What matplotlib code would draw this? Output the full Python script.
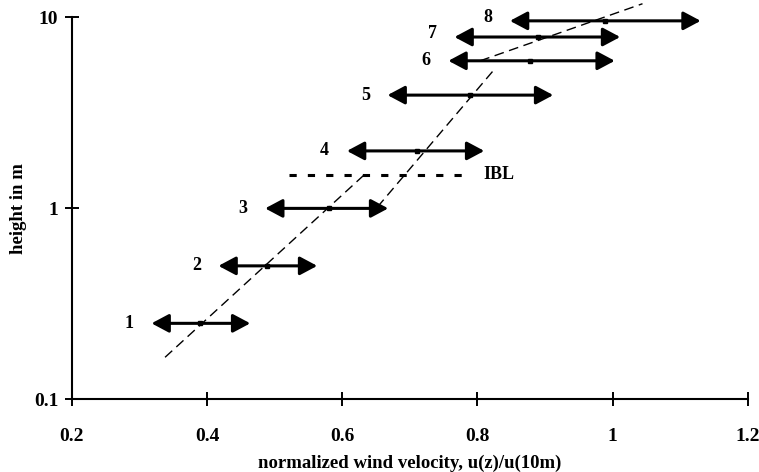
import matplotlib
matplotlib.use("Agg")
import matplotlib.pyplot as plt
import numpy as np

# --- data ---
labels = ["1", "2", "3", "4", "5", "6", "7", "8"]
heights = [0.25, 0.5, 1.0, 2.0, 3.92, 5.93, 7.9, 9.6]
u_center = [0.390, 0.489, 0.580, 0.710, 0.789, 0.878, 0.889, 0.988]
u_low = [0.318, 0.417, 0.486, 0.607, 0.667, 0.757, 0.766, 0.848]
u_high = [0.464, 0.563, 0.668, 0.810, 0.912, 1.003, 1.011, 1.130]

fit_a_x = [0.338, 0.637]
fit_a_y = [0.166, 1.55]
fit_b_x = [0.652, 0.824]
fit_b_y = [1.016, 5.3]
fit_c_x = [0.804, 1.044]
fit_c_y = [5.93, 11.8]

ibl_x = [0.522, 0.778]
ibl_y = [1.5, 1.5]
ibl_label = "IBL"

xticks = [0.2, 0.4, 0.6, 0.8, 1.0, 1.2]
xtick_labels = ["0.2", "0.4", "0.6", "0.8", "1", "1.2"]
yticks = [0.1, 1, 10]
ytick_labels = ["0.1", "1", "10"]
xlabel = "normalized wind velocity, u(z)/u(10m)"
ylabel = "height in m"

plt.rcParams['font.family'] = ['Liberation Serif', 'DejaVu Serif']
plt.rcParams['font.weight'] = 'bold'

fig = plt.figure(figsize=(7.59, 4.72), dpi=100)
ax = fig.add_axes([0.0945, 0.154, 0.891, 0.809])
ax.set_xscale('linear')
ax.set_yscale('log')
ax.set_xlim(0.2, 1.2)
ax.set_ylim(0.1, 10)

for s in ['top', 'right']:
    ax.spines[s].set_visible(False)
for s in ['left', 'bottom']:
    ax.spines[s].set_linewidth(1.5)

ax.set_xticks(xticks)
ax.set_xticklabels(xtick_labels)
ax.set_yticks(yticks)
ax.set_yticklabels(ytick_labels)
ax.yaxis.set_minor_locator(matplotlib.ticker.NullLocator())
ax.tick_params(axis='both', which='major', direction='inout', length=9.5,
               width=1.4, labelsize=14)
ax.tick_params(axis='x', pad=16)
ax.tick_params(axis='y', pad=5)
for lbl in ax.get_xticklabels() + ax.get_yticklabels():
    lbl.set_fontweight('bold')

ax.set_xlabel(xlabel, fontsize=13.5, fontweight='bold', labelpad=7)
ax.set_ylabel(ylabel, fontsize=13.5, fontweight='bold', labelpad=5)

# fit lines (dashed, thin)
for fx, fy in [(fit_a_x, fit_a_y), (fit_b_x, fit_b_y), (fit_c_x, fit_c_y)]:
    ax.plot(fx, fy, color='black', lw=1.0, linestyle=(0, (7, 4)), clip_on=False, zorder=2)

# IBL dotted line
lw_ibl = 2.2
ax.plot(ibl_x, ibl_y, color='black', lw=lw_ibl,
        linestyle=(0, (5.2 / lw_ibl, 8.0 / lw_ibl)), zorder=2)
ax.text(ibl_x[1] + 0.031, ibl_y[0], ibl_label, fontsize=13, fontweight='bold',
        ha='left', va='center')

# arrows
for lab, h, lo, hi, c in zip(labels, heights, u_low, u_high, u_center):
    ax.annotate('', xy=(hi, h), xytext=(lo, h),
                arrowprops=dict(arrowstyle='<|-|>,head_length=0.75,head_width=0.4',
                                lw=2.2, color='black', shrinkA=0, shrinkB=0,
                                mutation_scale=14),
                zorder=3, annotation_clip=False)
    ax.plot([c], [h], marker='s', markersize=3.0, color='black', zorder=4,
            clip_on=False)
    dy = 2.5 if lab in ("7", "8") else 0
    ax.annotate(lab, xy=(lo, h), xytext=(-16, dy), textcoords='offset points',
                ha='center', va='center', fontsize=13, fontweight='bold',
                annotation_clip=False)

fig.savefig('out.png', dpi=100)
